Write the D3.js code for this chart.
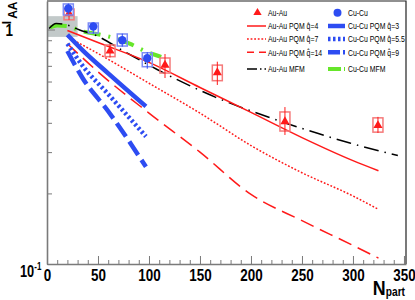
<!DOCTYPE html>
<html>
<head>
<meta charset="utf-8">
<script src="https://cdn.jsdelivr.net/npm/d3@7"></script>
<style>
  body { margin: 0; background: #fff; }
  svg { display: block; font-family: 'Liberation Sans', Arial, sans-serif; }
</style>
</head>
<body>
<svg id="chart" width="415" height="300"></svg>
<script>
// Au-Au measured points
const auNpart = [21.6, 61.8, 115.7, 167, 233.3, 324.5];
const auIaa = [1.17, 0.81, 0.705, 0.655, 0.405, 0.39];
const auSysLo = [1.1, 0.766, 0.652, 0.605, 0.369, 0.365];
const auSysHi = [1.223, 0.859, 0.756, 0.705, 0.445, 0.42];
const auStatLo = [1.1, 0.76, 0.621, 0.58, 0.355, 0.362];
const auStatHi = [1.23, 0.865, 0.786, 0.729, 0.467, 0.424];

// Cu-Cu measured points
const cuNpart = [20.9, 45.4, 73.8, 98.3];
const cuIaa = [1.23, 1.03, 0.9, 0.754];
const cuSysLo = [1.153, 0.966, 0.85, 0.694];
const cuSysHi = [1.285, 1.066, 0.957, 0.796];
const cuStatLo = [1.16, 0.96, 0.845, 0.68];
const cuStatHi = [1.29, 1.07, 0.96, 0.8];

// PQM curves
const auPqmN = [20, 50, 100, 150, 200, 250, 300, 325];
const auPqm4 = [0.99, 0.88, 0.724, 0.566, 0.443, 0.346, 0.276, 0.25];
const auPqm7 = [0.93, 0.79, 0.59, 0.44, 0.32, 0.245, 0.195, 0.171];
const auPqm14 = [0.87, 0.66, 0.44, 0.3, 0.198, 0.153, 0.12, 0.106];
const cuPqmN = [20, 35, 60, 97];
const cuPqm3 = [0.95, 0.815, 0.65, 0.47];
const cuPqm55 = [0.87, 0.7, 0.53, 0.35];
const cuPqm9 = [0.81, 0.62, 0.448, 0.26];

// MFM curves
const auMfmN = [2, 9, 18, 32, 47, 75, 108, 165, 219, 266, 297, 344];
const auMfm = [1.01, 1.06, 1.05, 0.995, 0.947, 0.81, 0.675, 0.515, 0.42, 0.36, 0.328, 0.29];
const cuMfmN = [3, 10, 20, 32, 50, 67, 81, 96, 112];
const cuMfm = [1.02, 1.04, 1.035, 0.99, 0.954, 0.917, 0.87, 0.81, 0.765];

// normalisation uncertainty band
const normBand = { n0: 0, n1: 30, lo: 0.93, hi: 1.14 };

const xTicks = [0, 50, 100, 150, 200, 250, 300, 350];

const RED = '#ff1a1a';
const BLUE = '#2d4cf2';
const GREEN = '#66e62a';
const AXIS = '#7a7a7a';
const NARROW = 0.8; // text is drawn horizontally squeezed like the original

const svg = d3.select('#chart');
const margin = { left: 47, right: 406, top: 1, bottom: 264 };

const x = d3.scaleLinear().domain([0, 352]).range([margin.left, margin.right]);
const y = d3.scaleLog().domain([0.1, 1.323]).range([margin.bottom, margin.top]);

const zip = (ns, vs) => ns.map((n, i) => [n, vs[i]]);
const line = d3
  .line()
  .x((d) => x(d[0]))
  .y((d) => y(d[1]))
  .curve(d3.curveMonotoneX);

// text helper: squeezed text placed at (tx, ty)
function squeezed(parent, tx, ty, sx) {
  return parent
    .append('text')
    .attr('transform', `translate(${tx},${ty}) scale(${sx || NARROW},1)`);
}

// grey band
svg
  .append('rect')
  .attr('x', x(normBand.n0))
  .attr('y', y(normBand.hi))
  .attr('width', x(normBand.n1) - x(normBand.n0))
  .attr('height', y(normBand.lo) - y(normBand.hi))
  .attr('fill', '#c2c9c9');

const curves = [
  { data: zip(cuMfmN, cuMfm), color: GREEN, width: 4, dash: '17,8,2,8' },
  { data: zip(auMfmN, auMfm), color: '#000', width: 1.5, dash: '15,6,1.5,6' },
  { data: zip(auPqmN, auPqm4), color: RED, width: 1.5, dash: null },
  { data: zip(auPqmN, auPqm7), color: RED, width: 1.5, dash: '1.8,1.8' },
  { data: zip(auPqmN, auPqm14), color: RED, width: 1.5, dash: '14,7' },
  { data: zip(cuPqmN, cuPqm3), color: BLUE, width: 4.5, dash: null },
  { data: zip(cuPqmN, cuPqm55), color: BLUE, width: 4.5, dash: '2.5,2.5' },
  { data: zip(cuPqmN, cuPqm9), color: BLUE, width: 4.5, dash: '16,6' },
];

svg
  .append('g')
  .selectAll('path')
  .data(curves)
  .join('path')
  .attr('fill', 'none')
  .attr('stroke', (d) => d.color)
  .attr('stroke-width', (d) => d.width)
  .attr('stroke-dasharray', (d) => d.dash)
  .attr('d', (d) => line(d.data));

// data points with boxes and error bars
function drawPoints(ns, vs, sysLo, sysHi, statLo, statHi, color, boxColor, symbol, size) {
  const g = svg.append('g');
  const pts = ns.map((n, i) => ({ n, v: vs[i], sl: sysLo[i], sh: sysHi[i], el: statLo[i], eh: statHi[i] }));
  g.selectAll('rect')
    .data(pts)
    .join('rect')
    .attr('x', (d) => x(d.n) - 5)
    .attr('y', (d) => y(d.sh))
    .attr('width', 10)
    .attr('height', (d) => y(d.sl) - y(d.sh))
    .attr('fill', 'none')
    .attr('stroke', boxColor)
    .attr('stroke-width', 1.5);
  g.selectAll('line')
    .data(pts)
    .join('line')
    .attr('x1', (d) => x(d.n))
    .attr('x2', (d) => x(d.n))
    .attr('y1', (d) => y(d.eh))
    .attr('y2', (d) => y(d.el))
    .attr('stroke', color)
    .attr('stroke-width', 1);
  g.selectAll('path')
    .data(pts)
    .join('path')
    .attr('transform', (d) => `translate(${x(d.n)},${y(d.v)})`)
    .attr('d', d3.symbol(symbol, size))
    .attr('fill', color);
}

drawPoints(auNpart, auIaa, auSysLo, auSysHi, auStatLo, auStatHi, RED, '#f57a7a', d3.symbolTriangle, 36);
drawPoints(cuNpart, cuIaa, cuSysLo, cuSysHi, cuStatLo, cuStatHi, BLUE, '#7d8cf5', d3.symbolCircle, 55);

// frame: top and right dark, axes grey
svg
  .append('path')
  .attr('d', `M${margin.left},${margin.top}H${margin.right}V${margin.bottom}`)
  .attr('fill', 'none')
  .attr('stroke', '#222')
  .attr('stroke-width', 1.2);

const xAxis = svg
  .append('g')
  .attr('transform', `translate(0,${margin.bottom})`)
  .call(d3.axisBottom(x).tickValues(xTicks).tickSizeInner(-8).tickSizeOuter(0).tickPadding(6).tickFormat(d3.format('d')));
xAxis.select('.domain').attr('stroke', AXIS).attr('stroke-width', 1.6);
xAxis
  .selectAll('text')
  .attr('font-size', 16)
  .attr('font-weight', 'bold')
  .attr('fill', '#000')
  .attr('font-family', null)
  .attr('transform', 'scale(0.84,1)');
xAxis.selectAll('line').attr('stroke', AXIS);

const xMinor = d3.range(10, 351, 10).filter((v) => v % 50 !== 0);
svg
  .append('g')
  .attr('transform', `translate(0,${margin.bottom})`)
  .call(d3.axisBottom(x).tickValues(xMinor).tickSize(-4).tickFormat(''))
  .call((g) => g.select('.domain').remove())
  .selectAll('line')
  .attr('stroke', AXIS);

svg
  .append('g')
  .attr('transform', `translate(${margin.left},0)`)
  .call(d3.axisLeft(y).tickValues([0.1, 1]).tickSizeInner(-8).tickSizeOuter(0).tickFormat(''))
  .call((g) => g.select('.domain').attr('stroke', AXIS).attr('stroke-width', 1.6))
  .selectAll('line')
  .attr('stroke', AXIS);

svg
  .append('g')
  .attr('transform', `translate(${margin.left},0)`)
  .call(d3.axisLeft(y).tickValues([0.2, 0.3, 0.4, 0.5, 0.6, 0.7, 0.8, 0.9]).tickSize(-5).tickFormat(''))
  .call((g) => g.select('.domain').remove())
  .selectAll('line')
  .attr('stroke', AXIS);

// y tick labels
squeezed(svg, 13, y(1) + 6, 0.84)
  .attr('text-anchor', 'end')
  .attr('font-size', 16)
  .attr('font-weight', 'bold')
  .text('1');
const tenth = squeezed(svg, 20, y(0.1) + 13, 0.8).attr('font-size', 16).attr('font-weight', 'bold');
tenth.append('tspan').text('10');
tenth.append('tspan').attr('dy', -7).attr('font-size', 10).text('-1');

// axis titles
const yTitle = svg
  .append('text')
  .attr('transform', 'translate(10.5,1.5) rotate(-90)')
  .attr('text-anchor', 'end')
  .attr('font-size', 12)
  .attr('font-weight', 'bold');
yTitle.append('tspan').text('I');
yTitle.append('tspan').attr('dy', 6.5).attr('dx', 2).text('AA');

const xTitle = squeezed(svg, 405, 295, 0.85).attr('text-anchor', 'end').attr('font-weight', 'bold');
xTitle.append('tspan').attr('font-size', 21).text('N');
xTitle.append('tspan').attr('font-size', 12).attr('dy', 1).text('part');

// legend
const legendRows = [12.7, 26, 39, 52.3, 69];
const legendLeft = [
  { label: 'Au-Au', marker: 'tri' },
  { label: 'Au-Au PQM ', q: '=4', color: RED, width: 1.5, dash: null },
  { label: 'Au-Au PQM ', q: '=7', color: RED, width: 1.5, dash: '1.8,1.8' },
  { label: 'Au-Au PQM ', q: '=14', color: RED, width: 1.5, dash: '7,5' },
  { label: 'Au-Au MFM', color: '#000', width: 1.5, dash: '10,3,1.5,3' },
];
const legendRight = [
  { label: 'Cu-Cu', marker: 'circle' },
  { label: 'Cu-Cu PQM ', q: '=3', color: BLUE, width: 4.5, dash: null },
  { label: 'Cu-Cu PQM ', q: '=5.5', color: BLUE, width: 4.5, dash: '2.5,2.5' },
  { label: 'Cu-Cu PQM ', q: '=9', color: BLUE, width: 4.5, dash: '12,3' },
  { label: 'Cu-Cu MFM', color: GREEN, width: 4, dash: '13,3,2,3' },
];

function legendColumn(items, x0, x1, tx) {
  const g = svg.append('g').attr('font-size', 9.3);
  items.forEach((d, i) => {
    const ry = legendRows[i];
    if (d.marker === 'tri') {
      g.append('path')
        .attr('transform', `translate(${(x0 + x1) / 2 + 1},${ry})`)
        .attr('d', d3.symbol(d3.symbolTriangle, 30))
        .attr('fill', RED);
    } else if (d.marker === 'circle') {
      g.append('path')
        .attr('transform', `translate(${(x0 + x1) / 2 + 1},${ry})`)
        .attr('d', d3.symbol(d3.symbolCircle, 50))
        .attr('fill', BLUE);
    } else {
      g.append('line')
        .attr('x1', x0)
        .attr('x2', x1)
        .attr('y1', ry)
        .attr('y2', ry)
        .attr('stroke', d.color)
        .attr('stroke-width', d.width)
        .attr('stroke-dasharray', d.dash);
    }
    const t = squeezed(g, tx, ry + 3.3, 0.74);
    t.append('tspan').text(d.label);
    if (d.q) {
      // q with a hat on top
      t.append('tspan').text('q');
      t.append('tspan').attr('dx', -4.3).attr('dy', -0.5).text('\u02C6');
      t.append('tspan').attr('dx', 1.2).attr('dy', 0.5).text(d.q);
    }
  });
}
legendColumn(legendLeft, 247, 266, 268);
legendColumn(legendRight, 328, 345, 348);
</script>
</body>
</html>
